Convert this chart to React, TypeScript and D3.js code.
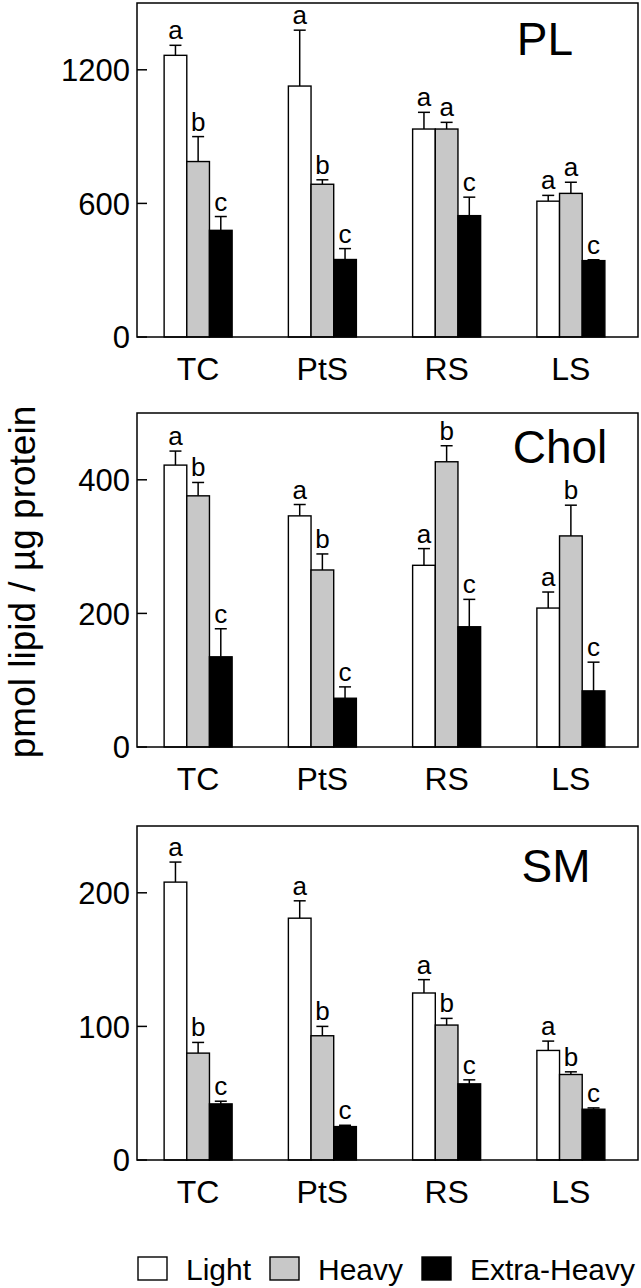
import React from "react";
import * as d3 from "d3";

const categories = ["TC", "PtS", "RS", "LS"];
const seriesNames = ["Light", "Heavy", "Extra-Heavy"];
const seriesFills = ["#ffffff", "#c8c8c8", "#000000"];

// PL
const plLight = [1265, 1127, 934, 610];
const plLightErr = [45, 251, 75, 26];
const plHeavy = [788, 686, 934, 645];
const plHeavyErr = [112, 20, 30, 50];
const plXHeavy = [479, 348, 545, 343];
const plXHeavyErr = [62, 49, 83, 4];
const plLetters = [["a", "a", "a", "a"], ["b", "b", "a", "a"], ["c", "c", "c", "c"]];
const plTicks = [0, 600, 1200];

// Chol
const cholLight = [422, 346, 272, 208];
const cholLightErr = [21, 17, 25, 24];
const cholHeavy = [376, 265, 427, 316];
const cholHeavyErr = [20, 24, 24, 46];
const cholXHeavy = [135, 73, 180, 84];
const cholXHeavyErr = [42, 17, 41, 43];
const cholLetters = [["a", "a", "a", "a"], ["b", "b", "b", "b"], ["c", "c", "c", "c"]];
const cholTicks = [0, 200, 400];

// SM
const smLight = [208, 181, 125, 82];
const smLightErr = [15, 13, 10, 7];
const smHeavy = [80, 93, 101, 64];
const smHeavyErr = [8, 7, 5, 2];
const smXHeavy = [42, 25, 57, 38];
const smXHeavyErr = [2, 1, 3, 1];
const smLetters = [["a", "a", "a", "a"], ["b", "b", "b", "b"], ["c", "c", "c", "c"]];
const smTicks = [0, 100, 200];

const yLabel = "pmol lipid / \u00b5g protein";
const FONT = "'Liberation Sans', Arial, sans-serif";

const panels = [
  { title: "PL", max: 1500, ticks: plTicks, means: [plLight, plHeavy, plXHeavy], errs: [plLightErr, plHeavyErr, plXHeavyErr], letters: plLetters, top: 3, titleX: 545, titleY: 55 },
  { title: "Chol", max: 500, ticks: cholTicks, means: [cholLight, cholHeavy, cholXHeavy], errs: [cholLightErr, cholHeavyErr, cholXHeavyErr], letters: cholLetters, top: 413, titleX: 560, titleY: 463 },
  { title: "SM", max: 250, ticks: smTicks, means: [smLight, smHeavy, smXHeavy], errs: [smLightErr, smHeavyErr, smXHeavyErr], letters: smLetters, top: 826, titleX: 556, titleY: 882 },
];

const W = 641;
const H = 1288;
const left = 137;
const right = 638;
const plotH = 334;

function Panel({ p }: { p: any }) {
  const y = d3.scaleLinear().domain([0, p.max]).range([p.top + plotH, p.top]);
  const x0 = d3.scaleBand().domain(categories).range([136, 633]).padding(0);
  const groupW = 68;
  const x1 = d3.scaleBand().domain(seriesNames).range([-groupW / 2, groupW / 2]).padding(0);
  const bottom = p.top + plotH;
  return (
    <g>
      {categories.map((c, ci) => {
        const cx = (x0(c) as number) + x0.bandwidth() / 2;
        return (
          <g key={c}>
            {seriesNames.map((s, si) => {
              const v = p.means[si][ci];
              const e = p.errs[si][ci];
              const bx = cx + (x1(s) as number);
              const bw = x1.bandwidth();
              const mid = bx + bw / 2;
              const yt = y(v);
              const ye = y(v + e);
              return (
                <g key={s}>
                  <line x1={mid} x2={mid} y1={yt} y2={ye} stroke="#000" strokeWidth={1.5} />
                  <line x1={mid - 6} x2={mid + 6} y1={ye} y2={ye} stroke="#000" strokeWidth={1.5} />
                  <rect x={bx} y={yt} width={bw} height={bottom - yt} fill={seriesFills[si]} stroke="#000" strokeWidth={1.4} />
                  <text x={mid} y={ye - 6} textAnchor="middle" fontSize={26} fontFamily={FONT}>{p.letters[si][ci]}</text>
                </g>
              );
            })}
            <text x={cx} y={bottom + 43} textAnchor="middle" fontSize={32} fontFamily={FONT}>{c}</text>
          </g>
        );
      })}
      <rect x={left} y={p.top} width={right - left} height={plotH} fill="none" stroke="#000" strokeWidth={1.5} />
      {p.ticks.map((t: number) => (
        <g key={t}>
          <line x1={left} x2={left + 10} y1={y(t)} y2={y(t)} stroke="#000" strokeWidth={1.5} />
          <text x={left - 7} y={y(t)} dy="0.36em" textAnchor="end" fontSize={31} fontFamily={FONT}>{t}</text>
        </g>
      ))}
      <text x={p.titleX} y={p.titleY} textAnchor="middle" fontSize={46} fontFamily={FONT}>{p.title}</text>
    </g>
  );
}

export default function App() {
  const legendX = [138, 270, 422];
  return (
    <svg width={W} height={H} style={{ position: "absolute", left: 0, top: 0, background: "#fff" }}>
      <rect x={0} y={0} width={W} height={H} fill="#fff" />
      {panels.map((p) => <Panel key={p.title} p={p} />)}
      <text transform={`translate(35, 582) rotate(-90)`} textAnchor="middle" fontSize={37} fontFamily={FONT}>{yLabel}</text>
      {seriesNames.map((s, i) => (
        <g key={s}>
          <rect x={legendX[i]} y={1257} width={29} height={23} fill={seriesFills[i]} stroke="#000" strokeWidth={1.4} />
          <text x={legendX[i] + 48} y={1280} fontSize={30} fontFamily={FONT}>{s}</text>
        </g>
      ))}
    </svg>
  );
}
